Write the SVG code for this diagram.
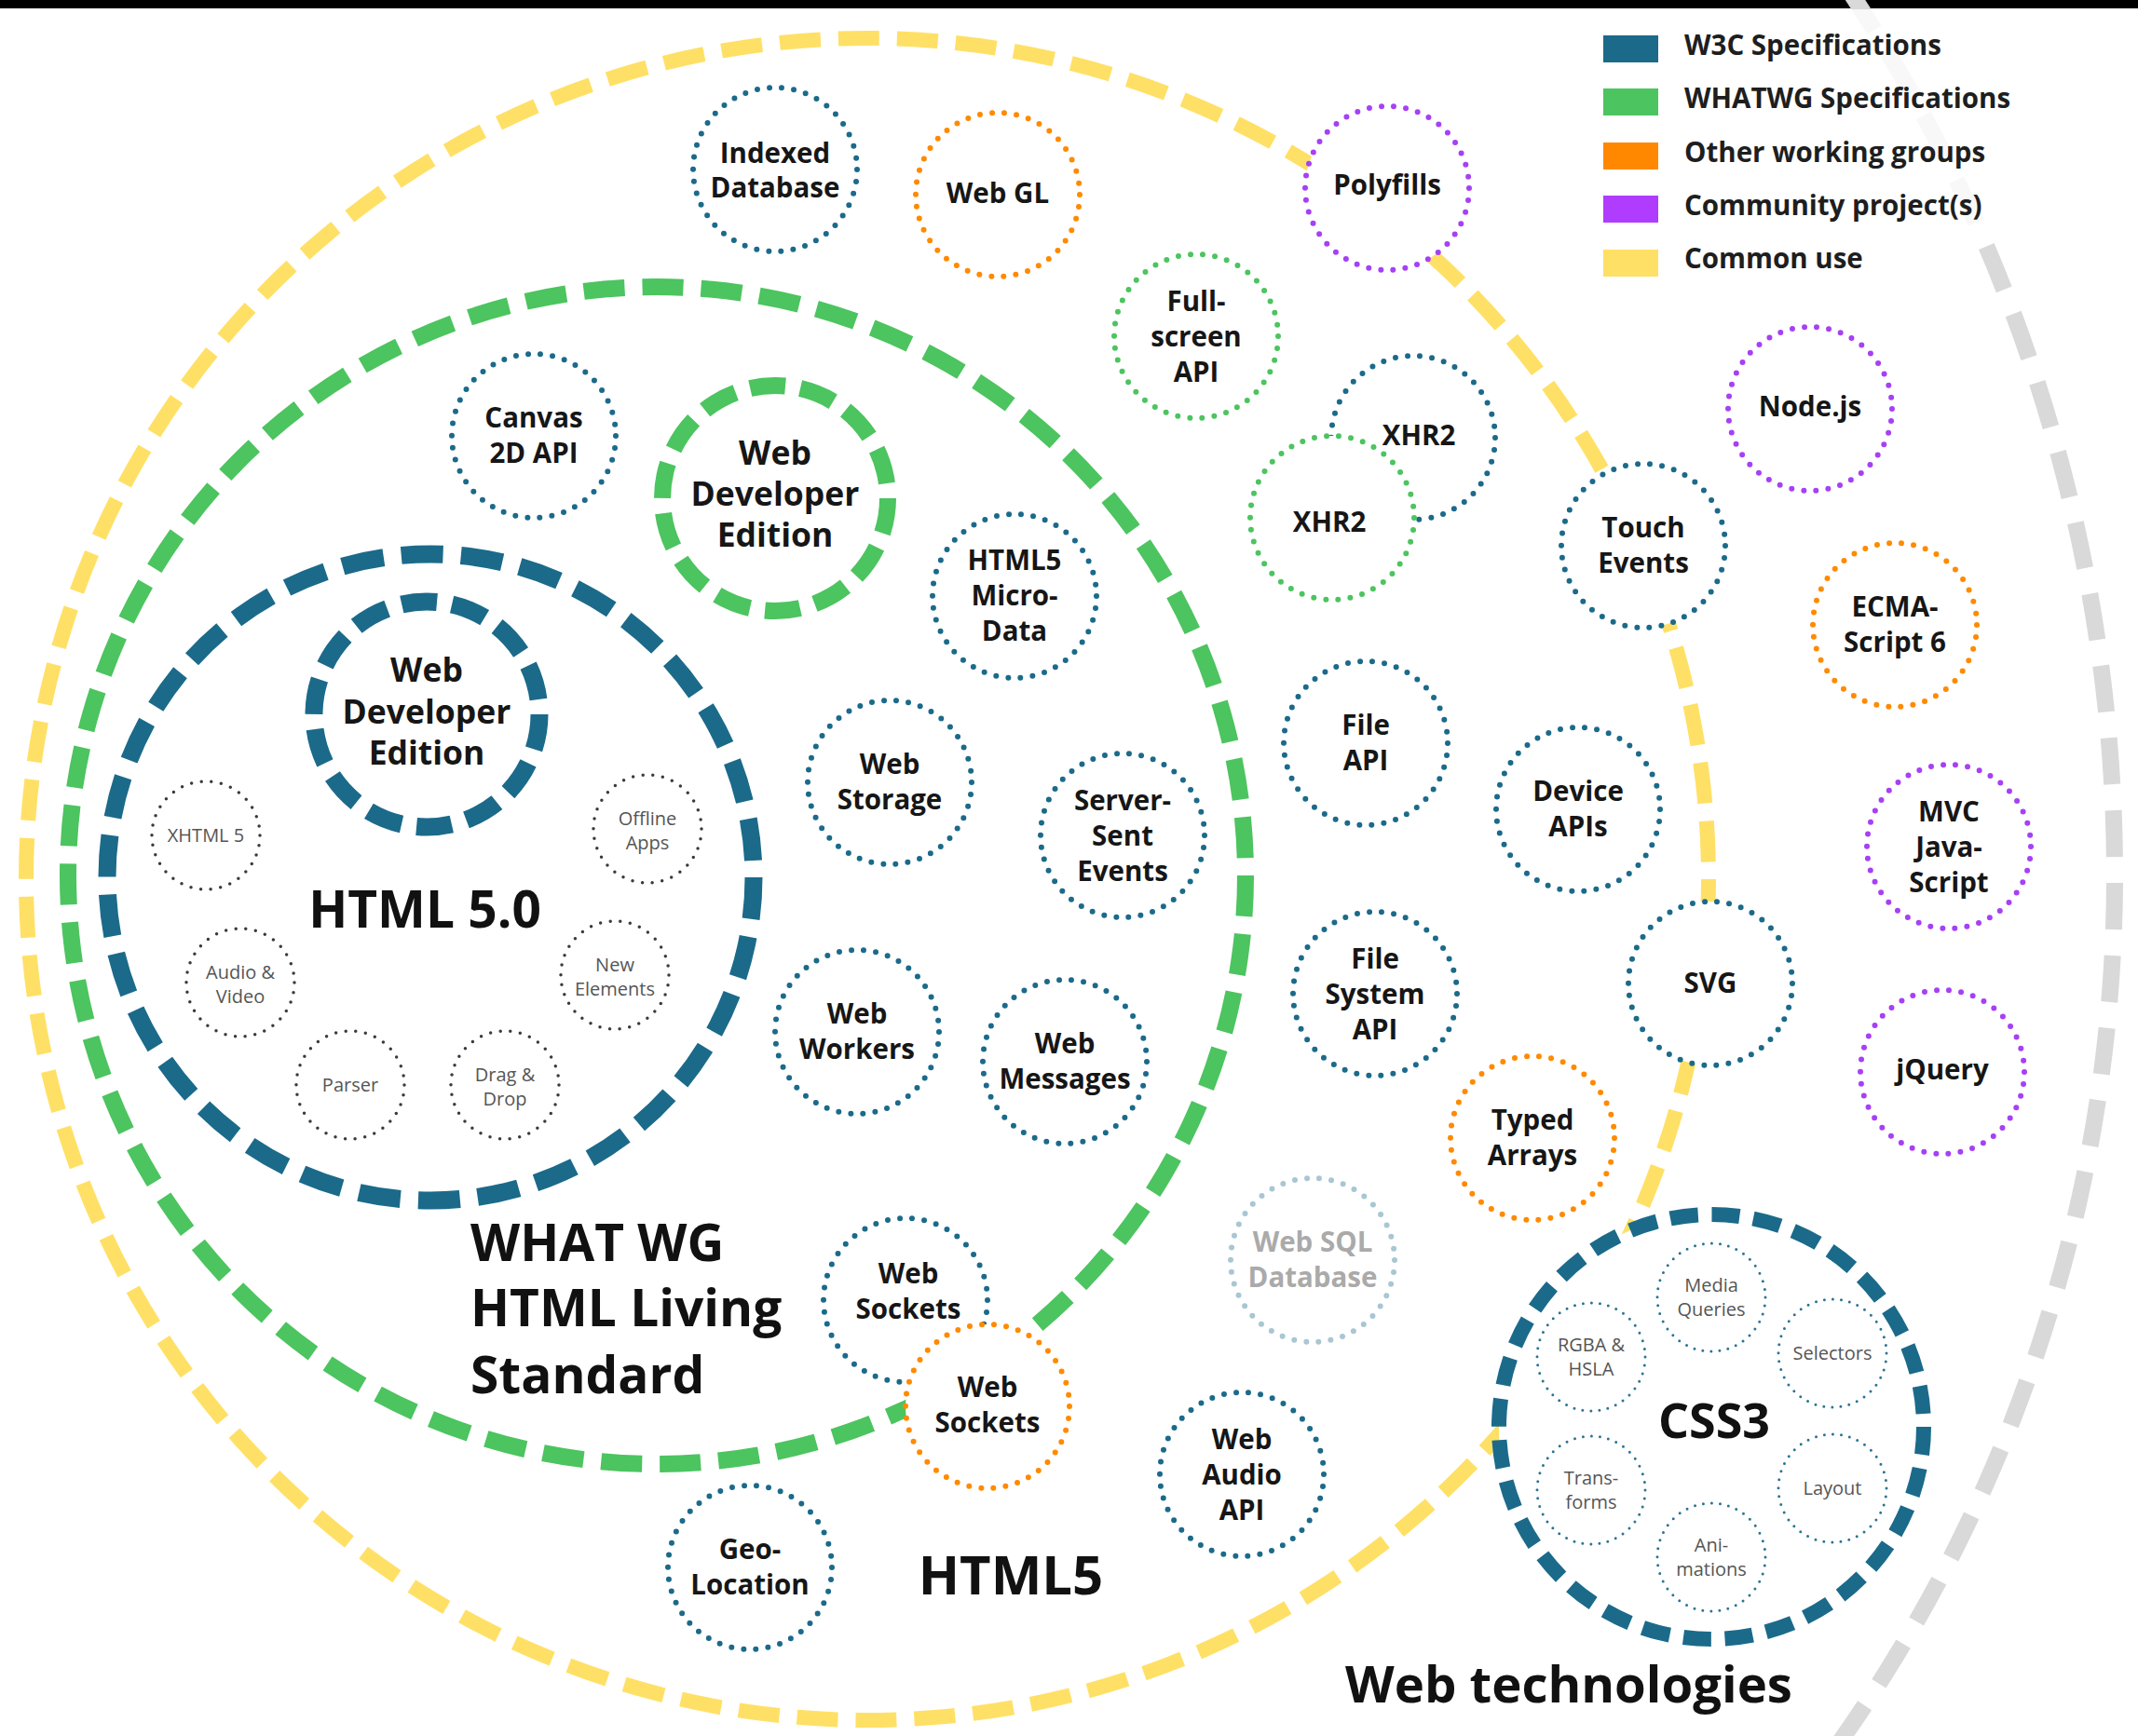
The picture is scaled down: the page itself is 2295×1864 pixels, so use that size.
<svg xmlns="http://www.w3.org/2000/svg" width="2295" height="1864" viewBox="0 0 2295 1864">
<style>
.ring{fill:none}
.n{fill:#fff;stroke-width:6;stroke-dasharray:0 13.16;stroke-linecap:round}
.b{stroke:#1b6a8a}.g{stroke:#4cc45f}.o{stroke:#ff8a00}.p{stroke:#a640f5}.s{stroke:#a9c6d3}
.in{fill:#fff;stroke:#3a3a3a;stroke-width:3.5;stroke-dasharray:0 10.72;stroke-linecap:round}
.ci{fill:#fff;stroke:#2a7494;stroke-width:3;stroke-dasharray:0 9.11;stroke-linecap:round}
text{font-family:"Open Sans","DejaVu Sans",sans-serif}
.t{font-weight:700;font-size:29.5px;fill:#161616;text-anchor:middle}
.sm{font-weight:400;font-size:20px;fill:#555;text-anchor:middle}
.big{font-weight:700;fill:#111}
.lg{font-weight:700;font-size:29.5px;fill:#1e1e1e}
.de{font-weight:700;font-size:35.5px;fill:#161616;text-anchor:middle}
</style>
<rect x="0" y="0" width="2295" height="1864" fill="#fff"/>
<rect x="0" y="0" width="2295" height="9" fill="#000"/>

<g id="rings" class="ring">
  <path id="web-tech-ring" d="M1985 -10 A1726 1726 0 0 1 2270 940 A1615 1615 0 0 1 1968 1880" fill="none" stroke="#d9d9d9" stroke-width="18" stroke-dasharray="50 28"/>
  <rect x="1700" y="10" width="440" height="235" fill="#fff" opacity="0.8"/>
  <circle id="html5-ring" cx="931" cy="944" r="903" fill="none" stroke="#ffe066" stroke-width="16" stroke-dasharray="44 19.04"/>
  <circle id="whatwg-ring" cx="705" cy="940" r="632" fill="none" stroke="#4cc45f" stroke-width="18" stroke-dasharray="44 19.03"/>
  <circle id="html50-ring" cx="462" cy="942" r="347" fill="none" stroke="#1b6a8a" stroke-width="19" stroke-dasharray="45 19.13"/>
</g>

<g id="legend">
  <rect x="1721" y="38" width="59" height="29" fill="#1b6a8a"/>
  <rect x="1721" y="95" width="59" height="29" fill="#4cc45f"/>
  <rect x="1721" y="153" width="59" height="29" fill="#ff8800"/>
  <rect x="1721" y="210" width="59" height="29" fill="#b03cff"/>
  <rect x="1721" y="268" width="59" height="29" fill="#ffe066"/>
  <text class="lg" x="1808" y="59">W3C Specifications</text>
  <text class="lg" x="1808" y="116">WHATWG Specifications</text>
  <text class="lg" x="1808" y="174">Other working groups</text>
  <text class="lg" x="1808" y="231">Community project(s)</text>
  <text class="lg" x="1808" y="288">Common use</text>
</g>

<g id="labels">
  <text class="big" x="505" y="1354" font-size="55">WHAT WG</text>
  <text class="big" x="505" y="1424" font-size="55">HTML Living</text>
  <text class="big" x="505" y="1496" font-size="55">Standard</text>
  <text class="big" x="1085" y="1712" font-size="58" text-anchor="middle">HTML5</text>
  <text class="big" x="1684" y="1828" font-size="54.5" text-anchor="middle">Web technologies</text>
</g>

<g id="html50">
  <text class="big" x="456" y="996" font-size="55" text-anchor="middle">HTML 5.0</text>
</g>
<g id="w3c-dev-edition">
  <circle cx="458" cy="767" r="121" fill="#fff" stroke="#1b6a8a" stroke-width="19" stroke-dasharray="38 16.3"/>
  <text class="de" x="458" y="732">Web</text>
  <text class="de" x="458" y="777">Developer</text>
  <text class="de" x="458" y="821">Edition</text>
</g>
<g id="xhtml5"><circle class="in" cx="221" cy="897" r="58"/><text class="sm" x="221" y="904">XHTML 5</text></g>
<g id="offline-apps"><circle class="in" cx="695" cy="890" r="58"/><text class="sm" x="695" y="886">Offline</text><text class="sm" x="695" y="912">Apps</text></g>
<g id="audio-video"><circle class="in" cx="258" cy="1055" r="58"/><text class="sm" x="258" y="1051">Audio &amp;</text><text class="sm" x="258" y="1077">Video</text></g>
<g id="new-elements"><circle class="in" cx="660" cy="1047" r="58"/><text class="sm" x="660" y="1043">New</text><text class="sm" x="660" y="1069">Elements</text></g>
<g id="parser"><circle class="in" cx="376" cy="1165" r="58"/><text class="sm" x="376" y="1172">Parser</text></g>
<g id="drag-drop"><circle class="in" cx="542" cy="1165" r="58"/><text class="sm" x="542" y="1161">Drag &amp;</text><text class="sm" x="542" y="1187">Drop</text></g>

<g id="whatwg-dev-edition">
  <circle cx="832" cy="535" r="121" fill="#fff" stroke="#4cc45f" stroke-width="18" stroke-dasharray="38 16.3"/>
  <text class="de" x="832" y="499">Web</text>
  <text class="de" x="832" y="543">Developer</text>
  <text class="de" x="832" y="587">Edition</text>
</g>

<g id="indexed-db"><circle class="n b" cx="832" cy="182" r="88"/><text class="t" x="832" y="175">Indexed</text><text class="t" x="832" y="212">Database</text></g>
<g id="webgl"><circle class="n o" cx="1071" cy="209" r="88"/><text class="t" x="1071" y="218">Web GL</text></g>
<g id="polyfills"><circle class="n p" cx="1489" cy="202" r="88"/><text class="t" x="1489" y="209">Polyfills</text></g>
<g id="fullscreen"><circle class="n g" cx="1284" cy="361" r="88"/><text class="t" x="1284" y="334">Full-</text><text class="t" x="1284" y="372">screen</text><text class="t" x="1284" y="410">API</text></g>
<g id="canvas"><circle class="n b" cx="573" cy="468" r="88"/><text class="t" x="573" y="459">Canvas</text><text class="t" x="573" y="497">2D API</text></g>
<g id="xhr2-w3c"><circle class="n b" cx="1517" cy="470" r="88"/><text class="t" x="1523" y="478">XHR2</text></g>
<g id="xhr2-whatwg"><circle class="n g" cx="1430" cy="556" r="88"/><text class="t" x="1427" y="571">XHR2</text></g>
<g id="nodejs"><circle class="n p" cx="1943" cy="439" r="88"/><text class="t" x="1943" y="447">Node.js</text></g>
<g id="touch-events"><circle class="n b" cx="1764" cy="586" r="88"/><text class="t" x="1764" y="577">Touch</text><text class="t" x="1764" y="615">Events</text></g>
<g id="microdata"><circle class="n b" cx="1089" cy="640" r="88"/><text class="t" x="1089" y="612">HTML5</text><text class="t" x="1089" y="650">Micro-</text><text class="t" x="1089" y="688">Data</text></g>
<g id="ecmascript"><circle class="n o" cx="2034" cy="671" r="88"/><text class="t" x="2034" y="662">ECMA-</text><text class="t" x="2034" y="700">Script 6</text></g>
<g id="file-api"><circle class="n b" cx="1466" cy="798" r="88"/><text class="t" x="1466" y="789">File</text><text class="t" x="1466" y="827">API</text></g>
<g id="web-storage"><circle class="n b" cx="955" cy="840" r="88"/><text class="t" x="955" y="831">Web</text><text class="t" x="955" y="869">Storage</text></g>
<g id="device-apis"><circle class="n b" cx="1694" cy="869" r="88"/><text class="t" x="1694" y="860">Device</text><text class="t" x="1694" y="898">APIs</text></g>
<g id="sse"><circle class="n b" cx="1205" cy="897" r="88"/><text class="t" x="1205" y="870">Server-</text><text class="t" x="1205" y="908">Sent</text><text class="t" x="1205" y="946">Events</text></g>
<g id="mvc"><circle class="n p" cx="2092" cy="909" r="88"/><text class="t" x="2092" y="882">MVC</text><text class="t" x="2092" y="920">Java-</text><text class="t" x="2092" y="958">Script</text></g>
<g id="svg"><circle class="n b" cx="1836" cy="1056" r="88"/><text class="t" x="1836" y="1066">SVG</text></g>
<g id="file-system"><circle class="n b" cx="1476" cy="1067" r="88"/><text class="t" x="1476" y="1040">File</text><text class="t" x="1476" y="1078">System</text><text class="t" x="1476" y="1116">API</text></g>
<g id="web-workers"><circle class="n b" cx="920" cy="1108" r="88"/><text class="t" x="920" y="1099">Web</text><text class="t" x="920" y="1137">Workers</text></g>
<g id="web-messages"><circle class="n b" cx="1143" cy="1140" r="88"/><text class="t" x="1143" y="1131">Web</text><text class="t" x="1143" y="1169">Messages</text></g>
<g id="jquery"><circle class="n p" cx="2085" cy="1151" r="88"/><text class="t" x="2085" y="1159">jQuery</text></g>
<g id="typed-arrays"><circle class="n o" cx="1645" cy="1222" r="88"/><text class="t" x="1645" y="1213">Typed</text><text class="t" x="1645" y="1251">Arrays</text></g>
<g id="web-sql"><circle class="n s" cx="1409" cy="1353" r="88"/><text class="t" x="1409" y="1344" style="fill:#aaaaaa">Web SQL</text><text class="t" x="1409" y="1382" style="fill:#aaaaaa">Database</text></g>
<g id="web-sockets-w3c"><circle class="n b" cx="972" cy="1396" r="88"/><text class="t" x="975" y="1378">Web</text><text class="t" x="975" y="1416">Sockets</text></g>
<g id="web-sockets-other"><circle class="n o" cx="1060" cy="1510" r="88"/><text class="t" x="1060" y="1500">Web</text><text class="t" x="1060" y="1538">Sockets</text></g>
<g id="web-audio"><circle class="n b" cx="1333" cy="1583" r="88"/><text class="t" x="1333" y="1556">Web</text><text class="t" x="1333" y="1594">Audio</text><text class="t" x="1333" y="1632">API</text></g>
<g id="geolocation"><circle class="n b" cx="805" cy="1683" r="88"/><text class="t" x="805" y="1674">Geo-</text><text class="t" x="805" y="1712">Location</text></g>

<g id="css3">
  <circle cx="1837" cy="1532" r="228" fill="#fff" stroke="#1b6a8a" stroke-width="16" stroke-dasharray="30 14.77"/>
  <text class="big" x="1840" y="1544" font-size="52" text-anchor="middle">CSS3</text>
</g>
<g id="media-queries"><circle class="ci" cx="1837" cy="1393" r="58"/><text class="sm" x="1837" y="1387">Media</text><text class="sm" x="1837" y="1413">Queries</text></g>
<g id="rgba-hsla"><circle class="ci" cx="1708" cy="1457" r="58"/><text class="sm" x="1708" y="1451">RGBA &amp;</text><text class="sm" x="1708" y="1477">HSLA</text></g>
<g id="selectors"><circle class="ci" cx="1967" cy="1453" r="58"/><text class="sm" x="1967" y="1460">Selectors</text></g>
<g id="transforms"><circle class="ci" cx="1708" cy="1600" r="58"/><text class="sm" x="1708" y="1594">Trans-</text><text class="sm" x="1708" y="1620">forms</text></g>
<g id="layout"><circle class="ci" cx="1967" cy="1598" r="58"/><text class="sm" x="1967" y="1605">Layout</text></g>
<g id="animations"><circle class="ci" cx="1837" cy="1672" r="58"/><text class="sm" x="1837" y="1666">Ani-</text><text class="sm" x="1837" y="1692">mations</text></g>
</svg>
